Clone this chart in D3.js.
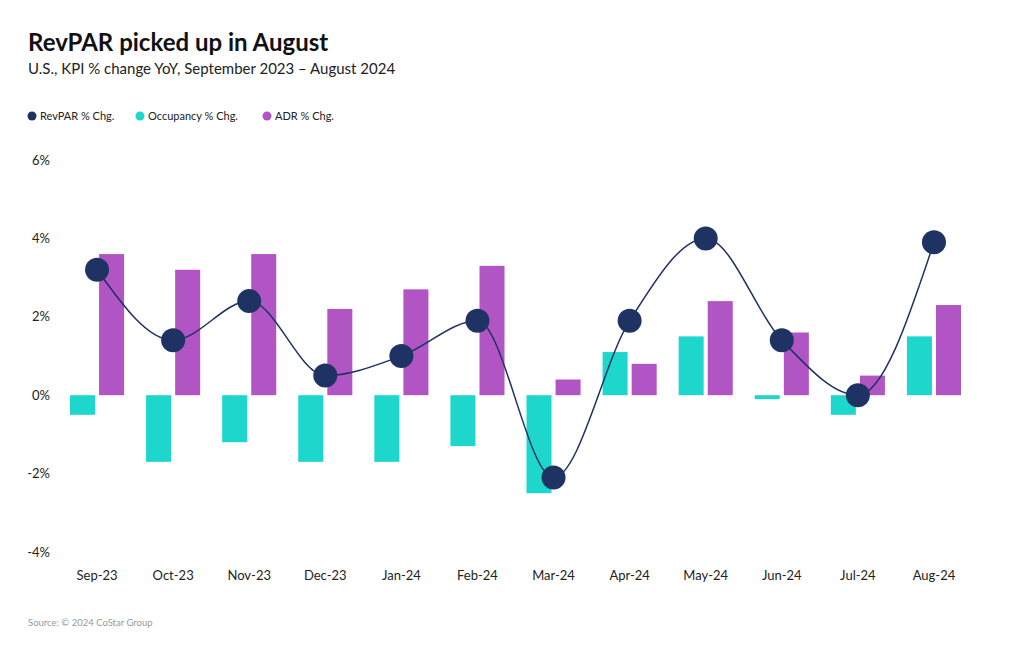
<!DOCTYPE html>
<html><head><meta charset="utf-8">
<script src="https://cdn.jsdelivr.net/npm/d3@7"></script>
<style>
body{margin:0;background:#fff;}
text{font-family:"Source Sans Pro","Lato","Noto Sans",sans-serif;}
</style></head>
<body>
<svg id="chart" width="1020" height="650"></svg>
<script>
const categories = ["Sep-23","Oct-23","Nov-23","Dec-23","Jan-24","Feb-24","Mar-24","Apr-24","May-24","Jun-24","Jul-24","Aug-24"];
const revpar = [3.2,1.4,2.4,0.5,1.0,1.9,-2.1,1.9,4.0,1.4,0.0,3.9];
const occupancy = [-0.5,-1.7,-1.2,-1.7,-1.7,-1.3,-2.5,1.1,1.5,-0.1,-0.5,1.5];
const adr = [3.6,3.2,3.6,2.2,2.7,3.3,0.4,0.8,2.4,1.6,0.5,2.3];
const yTicks = [-4,-2,0,2,4,6];
const seriesNames = ["RevPAR % Chg.","Occupancy % Chg.","ADR % Chg."];
const colors = {rev:"#1e3264", occ:"#1dd6cc", adr:"#b154c4"};

const svg = d3.select("#chart");
svg.append("rect").attr("width",1020).attr("height",650).attr("fill","#fff");

svg.append("text").attr("x",28).attr("y",51).attr("font-size",24).attr("font-weight",700).attr("fill","#111")
  .text("RevPAR picked up in August");
svg.append("text").attr("x",28).attr("y",74).attr("font-size",15).attr("fill","#222")
  .text("U.S., KPI % change YoY, September 2023 \u2013 August 2024");

// legend
const legendX = [32,140,267];
const legendC = [colors.rev, colors.occ, colors.adr];
seriesNames.forEach((n,i)=>{
  svg.append("circle").attr("cx",legendX[i]).attr("cy",116).attr("r",4.5).attr("fill",legendC[i]);
  svg.append("text").attr("x",legendX[i]+8).attr("y",120).attr("font-size",11).attr("fill","#222").text(n);
});

const x = d3.scaleBand().domain(categories).range([59,972]);
const y = d3.scaleLinear().domain([-4,6]).range([552,160]);
const bw = x.bandwidth();
const sub = d3.scaleBand().domain(["occ","adr"]).range([11,bw-11]).paddingInner(0.14);

// y axis labels
const yAxis = d3.axisLeft(y).tickValues(yTicks).tickFormat(d=>d+"%").tickSize(0).tickPadding(0);
const ga = svg.append("g").attr("transform","translate(50,0)").call(yAxis);
ga.select(".domain").remove();
ga.selectAll("text").attr("font-size",13).attr("fill","#222").style("font-family",'"Source Sans Pro","Lato","Noto Sans",sans-serif');

// x axis labels
const xAxis = d3.axisBottom(x).tickSize(0).tickPadding(0);
const gx = svg.append("g").attr("transform","translate(0,571)").call(xAxis);
gx.select(".domain").remove();
gx.selectAll("text").attr("font-size",13).attr("fill","#222").style("font-family",'"Source Sans Pro","Lato","Noto Sans",sans-serif');

// bars
const bars = svg.append("g");
categories.forEach((c,i)=>{
  [["occ",occupancy[i]],["adr",adr[i]]].forEach(([k,v])=>{
    bars.append("rect")
      .attr("x",x(c)+sub(k))
      .attr("width",sub.bandwidth())
      .attr("y",y(Math.max(0,v)))
      .attr("height",Math.abs(y(v)-y(0)))
      .attr("fill",colors[k]);
  });
});

// line
const cx = c => x(c)+x.bandwidth()/2;
const line = d3.line().x((d,i)=>cx(categories[i])).y(d=>y(d)).curve(d3.curveMonotoneX);
svg.append("path").datum(revpar).attr("d",line).attr("fill","none").attr("stroke",colors.rev).attr("stroke-width",1.5);
svg.append("g").selectAll("circle").data(revpar).join("circle")
  .attr("cx",(d,i)=>cx(categories[i])).attr("cy",d=>y(d)).attr("r",12).attr("fill",colors.rev);

svg.append("text").attr("x",28).attr("y",626).attr("font-size",9.5).attr("fill","#999").text("Source: \u00a9 2024 CoStar Group");
</script>
</body></html>
